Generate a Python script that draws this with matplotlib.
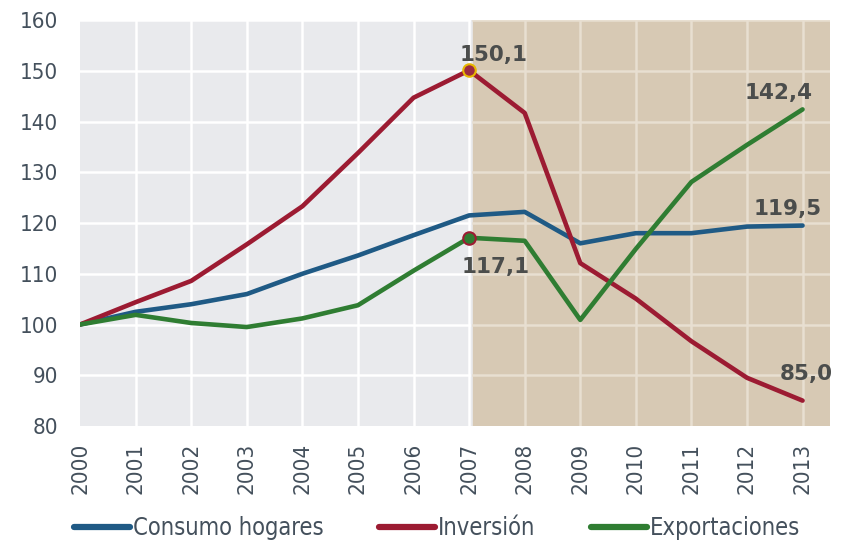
import matplotlib
matplotlib.use("Agg")
import matplotlib.pyplot as plt
from matplotlib.lines import Line2D
from matplotlib.font_manager import FontProperties

years = ["2000", "2001", "2002", "2003", "2004", "2005", "2006",
         "2007", "2008", "2009", "2010", "2011", "2012", "2013"]
consumo = [100, 102.5, 104.0, 106.0, 110.0, 113.6, 117.6, 121.5, 122.2, 116.0, 118.0, 118.0, 119.3, 119.5]
inversion = [100, 104.4, 108.6, 115.8, 123.3, 133.8, 144.7, 150.1, 141.7, 112.1, 105.1, 96.7, 89.5, 85.0]
exportaciones = [100, 101.9, 100.3, 99.5, 101.2, 103.8, 110.6, 117.1, 116.5, 100.9, 114.9, 128.1, 135.4, 142.4]
series_names = ["Consumo hogares", "Inversión", "Exportaciones"]

c_blue = "#1f5a85"
c_red = "#9c1b32"
c_green = "#2f7d32"
txt = "#44505c"

plt.rcParams['font.family'] = ['DejaVu Sans']
plt.rcParams['font.stretch'] = 'condensed'
tickfont = FontProperties(family='DejaVu Sans', stretch='condensed', size=16)

fig = plt.figure(figsize=(8.43, 5.43), dpi=100)
ax = fig.add_axes([0.095, 0.2155, 0.89, 0.7475])
x = list(range(len(years)))

ax.set_facecolor("#e9eaed")
ax.axvspan(7.07, 13.5, color="#d7c9b4", zorder=0)
for yv in range(90, 161, 10):
    ax.plot([0, 7], [yv, yv], color="white", lw=1.8, zorder=1)
    ax.plot([7.07, 13.5], [yv, yv], color="#e8dfd1", lw=1.8, zorder=1)
for xv in x[1:8]:
    ax.axvline(xv, color="white", lw=1.8, zorder=1)
for xv in x[8:]:
    ax.axvline(xv, color="#e8dfd1", lw=1.8, zorder=1)

ax.plot(x, consumo, color=c_blue, lw=3.3, zorder=3, solid_capstyle="round")
ax.plot(x, inversion, color=c_red, lw=3.3, zorder=3, solid_capstyle="round")
ax.plot(x, exportaciones, color=c_green, lw=3.3, zorder=3, solid_capstyle="round")

ax.plot([7], [inversion[7]], 'o', ms=9, mfc="#9c2b40", mec="#e8b800", mew=1.5, zorder=4)
ax.plot([7], [exportaciones[7]], 'o', ms=9, mfc="#2f7d32", mec="#9c1b32", mew=1.5, zorder=4)

lab = dict(fontsize=15.5, fontweight="bold", color="#4b4d4c", family="DejaVu Sans",
           fontstretch="normal", textcoords="offset points")
pt = 0.72
ax.annotate("150,1", (7, inversion[7]), xytext=(-10 * pt, 9 * pt), ha="left", va="baseline", **lab)
ax.annotate("117,1", (7, exportaciones[7]), xytext=(-8 * pt, -35 * pt), ha="left", va="baseline", **lab)
ax.annotate("142,4", (13, exportaciones[13]), xytext=(-24 * pt, 10 * pt), ha="center", va="baseline", **lab)
ax.annotate("119,5", (13, consumo[13]), xytext=(-15 * pt, 11 * pt), ha="center", va="baseline", **lab)
ax.annotate("85,0", (13, inversion[13]), xytext=(4 * pt, 21 * pt), ha="center", va="baseline", **lab)

ax.set_xlim(0, 13.5)
ax.set_ylim(80, 160)
ax.set_yticks(range(80, 161, 10))
ax.set_xticks(x)
ax.set_xticklabels(years, rotation=90)
for t in ax.get_xticklabels() + ax.get_yticklabels():
    t.set_fontproperties(tickfont)
ax.tick_params(axis="both", length=0, colors=txt)
ax.tick_params(axis="y", pad=16)
ax.tick_params(axis="x", pad=12)
for s in ax.spines.values():
    s.set_visible(False)

handles = [Line2D([0], [0], color=c, lw=4.5, solid_capstyle="round") for c in (c_blue, c_red, c_green)]
fig.legend(handles, series_names, loc="center", bbox_to_anchor=(0.518, 0.027), ncol=3,
           frameon=False, prop=FontProperties(family='DejaVu Sans', stretch='condensed', size=17),
           labelcolor=txt, handlelength=2.4, handletextpad=0.1, columnspacing=2.35)

fig.savefig("out.png", dpi=100)
